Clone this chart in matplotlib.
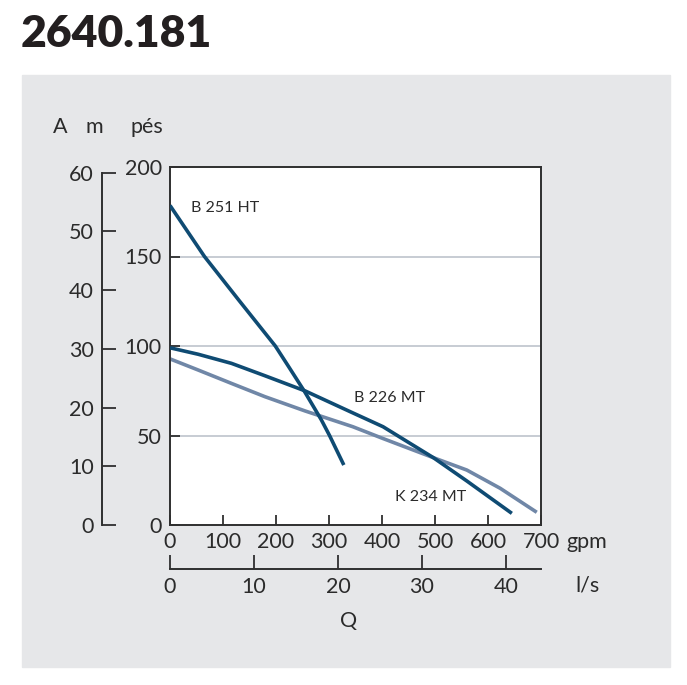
import matplotlib.pyplot as plt
from matplotlib.patches import Rectangle

W, H = 687, 685
plt.rcParams['font.family'] = ['Lato', 'DejaVu Sans']

# curve data: flow in gpm, head in feet
b251_q = [0, 65, 129.6, 198.7, 224, 254, 285.6, 301, 328]
b251_h = [178.5, 150, 125.7, 100, 88.4, 74.5, 58.7, 50, 33.5]
b226_q = [0, 53, 116, 179, 255, 340, 402, 453, 497, 560, 645]
b226_h = [99, 95.4, 90.3, 83.4, 74.9, 63.3, 54.9, 45.6, 37.6, 24.6, 6.5]
k234_q = [0, 53, 116, 179, 255, 345, 402, 497, 560, 623, 692]
k234_h = [92.8, 86.6, 79.1, 71.7, 63.7, 54.9, 48.3, 37.6, 30.7, 20.5, 7.1]

gpm_ticks = [0, 100, 200, 300, 400, 500, 600, 700]
ft_ticks = [0, 50, 100, 150, 200]
m_ticks = [0, 10, 20, 30, 40, 50, 60]
ls_ticks = [0, 10, 20, 30, 40]

dark = '#0f4b73'
light = '#7087a7'
txt = '#2b2b2b'
axc = '#2f2f2f'
fs = 15.5


def fx(px):
    return px / W


def fy(py):
    return 1 - py / H


fig = plt.figure(figsize=(W / 100, H / 100), dpi=100)
fig.patches.append(Rectangle((fx(22), fy(667)), fx(670) - fx(22), fy(75) - fy(667),
                             transform=fig.transFigure, color='#e6e7e9', zorder=-10))
fig.text(fx(21), fy(34), '2640.181', fontsize=32, fontweight='heavy', color='#231f20',
         va='center', ha='left')

# main axes (feet vs gpm)
ax = fig.add_axes([fx(170), fy(525), fx(541) - fx(170), fy(167) - fy(525)])
ax.set_xlim(0, 700)
ax.set_ylim(0, 200)
ax.set_facecolor('white')
for s in ax.spines.values():
    s.set_color(axc)
    s.set_linewidth(1.4)
for y in ft_ticks[1:-1]:
    ax.axhline(y, color='#b8bfc7', lw=1.1, zorder=1)
ax.set_xticks(gpm_ticks)
ax.set_yticks(ft_ticks)
ax.tick_params(direction='in', length=7, width=1.3, color=axc, labelsize=fs,
               labelcolor=txt, pad=5)
ax.tick_params(axis='y', pad=6)

style = dict(lw=2.6, solid_capstyle='butt', solid_joinstyle='round')
ax.plot(b251_q, b251_h, color=dark, zorder=3, **style)
ax.plot(b226_q, b226_h, color=dark, zorder=3, **style)
ax.plot(k234_q, k234_h, color=light, zorder=2, **style)
ax.text(40, 177, 'B 251 HT', fontsize=11.5, color=txt, va='center')
ax.text(347, 71, 'B 226 MT', fontsize=11.5, color=txt, va='center')
ax.text(424, 15.5, 'K 234 MT', fontsize=11.5, color=txt, va='center')

# meters axis
axm = fig.add_axes([fx(102), fy(525), 0.001, fy(167) - fy(525)])
axm.set_ylim(0, 200 * 0.3048)
axm.patch.set_visible(False)
for k in ['top', 'right', 'bottom']:
    axm.spines[k].set_visible(False)
axm.spines['left'].set_bounds(0, 60)
axm.spines['left'].set_color(axc)
axm.spines['left'].set_linewidth(1.4)
axm.set_xticks([])
axm.set_yticks(m_ticks)
axm.tick_params(direction='in', length=10, width=1.3, color=axc, labelsize=fs,
                labelcolor=txt, pad=6)

# l/s axis
axq = fig.add_axes([fx(170), fy(569), fx(541) - fx(170), 0.001])
axq.set_xlim(0, 700 / 15.85)
axq.patch.set_visible(False)
for k in ['top', 'right', 'left']:
    axq.spines[k].set_visible(False)
axq.spines['bottom'].set_color(axc)
axq.spines['bottom'].set_linewidth(1.4)
axq.set_yticks([])
axq.set_xticks(ls_ticks)
axq.tick_params(direction='in', length=10, width=1.3, color=axc, labelsize=fs,
                labelcolor=txt, pad=6)

fig.text(fx(60), fy(127), 'A', fontsize=fs, color=txt, ha='center', va='center')
fig.text(fx(94), fy(127), 'm', fontsize=fs, color=txt, ha='center', va='center')
fig.text(fx(147), fy(127), 'pés', fontsize=fs, color=txt, ha='center', va='center')
fig.text(fx(566), fy(542), 'gpm', fontsize=fs, color=txt, ha='left', va='center')
fig.text(fx(575), fy(586), 'l/s', fontsize=fs, color=txt, ha='left', va='center')
fig.text(fx(349), fy(621), 'Q', fontsize=fs, color=txt, ha='center', va='center')

fig.savefig('out.png', dpi=100)
